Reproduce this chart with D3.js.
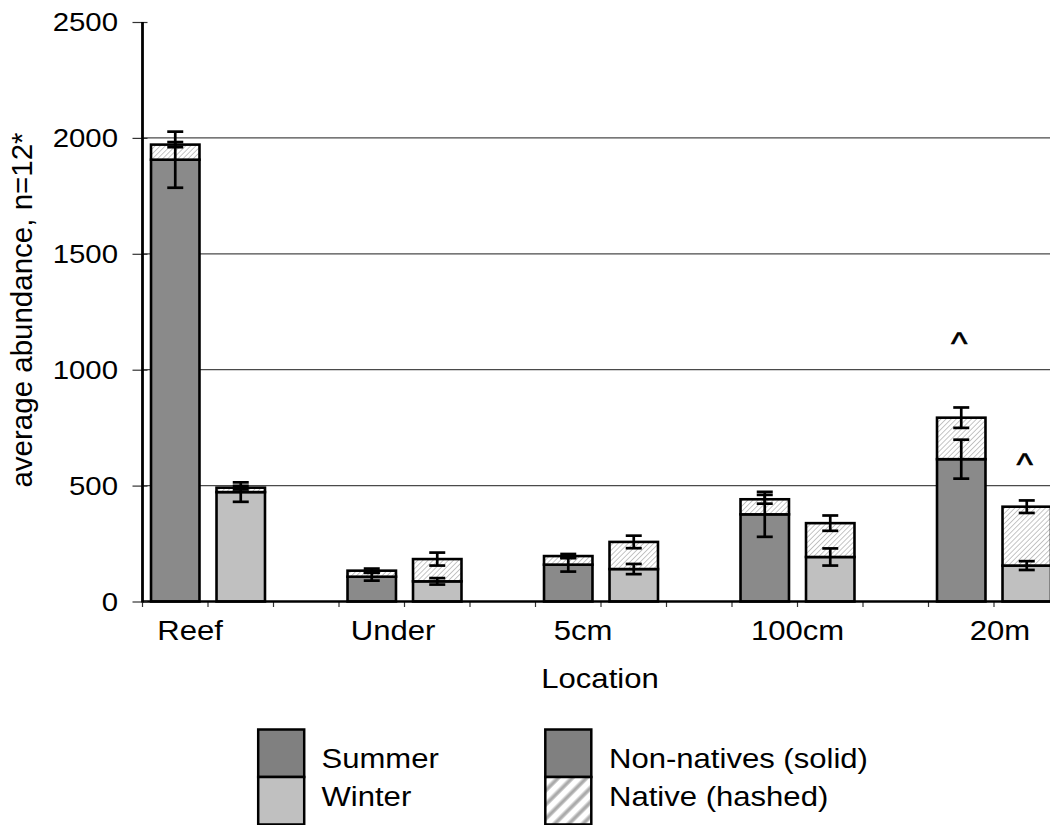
<!DOCTYPE html>
<html>
<head>
<meta charset="utf-8">
<script src="https://cdn.jsdelivr.net/npm/d3@7"></script>
<style>
  html, body { margin: 0; padding: 0; background: #fff; }
  svg { display: block; }
  text { font-family: "Liberation Sans", Arial, sans-serif; fill: #000; }
</style>
</head>
<body>
<svg id="chart" width="1050" height="825"></svg>
<script>
// ---- data -------------------------------------------------------------
const locations = ["Reef", "Under", "5cm", "100cm", "20m"];
const seasons = ["Summer", "Winter"];

// average abundance, stacked: non-native (solid) + native (hashed)
const summerNonNative = [1906, 107, 159, 376, 614];
const summerNative    = [65, 26, 37, 65, 179];
const winterNonNative = [472, 87, 140, 192, 155];
const winterNative    = [19, 96, 117, 146, 254];

// error bars: on the non-native segment and on the stack total
const summerNonNativeErr = [121, 17, 30, 97, 84];
const summerTotalErr     = [11, 9, 9, 19, 44];
const winterNonNativeErr = [42, 14, 22, 37, 19];
const winterTotalErr     = [8, 28, 27, 33, 27];

const yTicks = [0, 500, 1000, 1500, 2000, 2500];
const gridValues = [500, 1000, 1500, 2000];

// "^" markers (location, season, height in abundance units)
const markerLocation = ["20m", "20m"];
const markerSeason = ["Summer", "Winter"];
const markerLevel = [1080, 560];

const legendSeasons = ["Summer", "Winter"];
const legendParts = ["Non-natives (solid)", "Native (hashed)"];

// ---- layout -----------------------------------------------------------
const svg = d3.select("#chart");
const x0 = 142.5, step = 65.5, y0 = 601.5, yTop = 22;
const SX = 1.13;               // horizontal stretch of the chart lettering
const seasonFill = { Summer: "#8a8a8a", Winter: "#c0c0c0" };
const legendFill = { Summer: "#808080", Winter: "#c0c0c0" };

// one slot per bar, with an empty slot separating locations
const slots = [];
locations.forEach((loc, i) => {
  slots.push(loc + "|Summer", loc + "|Winter");
  if (i < locations.length - 1) slots.push(loc + "|gap");
});
const x = d3.scaleBand().domain(slots).range([x0, x0 + step * slots.length]).padding(0);
const y = d3.scaleLinear().domain([0, 2500]).range([y0, yTop]);
const barW = x.bandwidth() * 0.74;

// ---- patterns ---------------------------------------------------------
const defs = svg.append("defs");
const hatch = defs.append("pattern")
  .attr("id", "hatch").attr("patternUnits", "userSpaceOnUse")
  .attr("width", 3.6).attr("height", 3.6)
  .attr("patternTransform", "rotate(45)");
hatch.append("rect").attr("width", 3.6).attr("height", 3.6).attr("fill", "#fff");
hatch.append("line").attr("x1", 0).attr("y1", 0).attr("x2", 0).attr("y2", 3.6)
  .attr("stroke", "#a6a6a6").attr("stroke-width", 1.3);

defs.append("filter").attr("id", "soft")
  .append("feGaussianBlur").attr("stdDeviation", 1.1);
const hatchBig = defs.append("pattern")
  .attr("id", "hatchBig").attr("patternUnits", "userSpaceOnUse")
  .attr("width", 10).attr("height", 10)
  .attr("patternTransform", "rotate(45)");
hatchBig.append("rect").attr("width", 10).attr("height", 10).attr("fill", "#fff");
hatchBig.append("rect").attr("x", 3).attr("y", -2).attr("width", 3.6).attr("height", 14)
  .attr("fill", "#9c9c9c").attr("filter", "url(#soft)");

// helper for horizontally stretched text
function hText(g, px, py, str, size, anchor) {
  return g.append("text")
    .attr("transform", `translate(${px},${py}) scale(${SX},1)`)
    .attr("text-anchor", anchor || "start")
    .style("font-size", size + "px")
    .text(str);
}

// ---- gridlines --------------------------------------------------------
svg.append("g").selectAll("line").data(gridValues).join("line")
  .attr("x1", x0).attr("x2", 1050)
  .attr("y1", d => y(d)).attr("y2", d => y(d))
  .attr("stroke", "#4a4a4a").attr("stroke-width", 1.2);

// ---- bars -------------------------------------------------------------
const bars = [];
locations.forEach((loc, i) => {
  bars.push({ loc, season: "Summer", nn: summerNonNative[i], nat: summerNative[i],
              nnErr: summerNonNativeErr[i], totErr: summerTotalErr[i] });
  bars.push({ loc, season: "Winter", nn: winterNonNative[i], nat: winterNative[i],
              nnErr: winterNonNativeErr[i], totErr: winterTotalErr[i] });
});
const cx = d => x(d.loc + "|" + d.season) + x.bandwidth() / 2;

const barG = svg.append("g");
barG.selectAll("rect.nn").data(bars).join("rect").attr("class", "nn")
  .attr("x", d => cx(d) - barW / 2).attr("width", barW)
  .attr("y", d => y(d.nn)).attr("height", d => y(0) - y(d.nn))
  .attr("fill", d => seasonFill[d.season])
  .attr("stroke", "#000").attr("stroke-width", 2.6);
barG.selectAll("rect.nat").data(bars).join("rect").attr("class", "nat")
  .attr("x", d => cx(d) - barW / 2).attr("width", barW)
  .attr("y", d => y(d.nn + d.nat)).attr("height", d => y(d.nn) - y(d.nn + d.nat))
  .attr("fill", "url(#hatch)")
  .attr("stroke", "#000").attr("stroke-width", 2.6);

// ---- error bars -------------------------------------------------------
const errs = [];
bars.forEach(d => {
  errs.push({ cx: cx(d), v: d.nn, e: d.nnErr });
  errs.push({ cx: cx(d), v: d.nn + d.nat, e: d.totErr });
});
const capW = 16;
const errG = svg.append("g").attr("stroke", "#000").attr("stroke-width", 2.7);
errs.forEach(d => {
  errG.append("line").attr("x1", d.cx).attr("x2", d.cx)
    .attr("y1", y(d.v - d.e)).attr("y2", y(d.v + d.e));
  [d.v - d.e, d.v + d.e].forEach(v => {
    errG.append("line").attr("x1", d.cx - capW / 2).attr("x2", d.cx + capW / 2)
      .attr("y1", y(v)).attr("y2", y(v));
  });
});

// ---- markers ----------------------------------------------------------
markerLocation.forEach((loc, i) => {
  const px = x(loc + "|" + markerSeason[i]) + x.bandwidth() / 2 - 2;
  hText(svg, px, y(markerLevel[i]) + 3, "^", 31, "middle")
    .attr("stroke", "#000").attr("stroke-width", 0.6);
});

// ---- axes -------------------------------------------------------------
// x axis: baseline with small ticks at slot boundaries
const xAxisG = svg.append("g");
const boundaries = slots.map(s => x(s)).concat([x0 + step * slots.length]);
xAxisG.selectAll("line.tick").data(boundaries).join("line")
  .attr("x1", d => d).attr("x2", d => d).attr("y1", y0).attr("y2", y0 + 5.5)
  .attr("stroke", "#333").attr("stroke-width", 1.2);
xAxisG.append("line").attr("x1", x0).attr("x2", 1050).attr("y1", y0).attr("y2", y0)
  .attr("stroke", "#000").attr("stroke-width", 2.7);

// location labels (small nudges for the hand-placed captions)
const labelNudge = [-18, -11.5, -18, 0, 6];
locations.forEach((loc, i) => {
  const c = x(loc + "|Summer") + x.bandwidth();
  hText(svg, c + labelNudge[i], 640, loc, 27.5, "middle");
});
hText(svg, 600, 688, "Location", 27.5, "middle");

// y axis
const yAxis = d3.axisLeft(y).tickValues(yTicks).tickSize(0).tickPadding(0).tickFormat(d3.format("d"));
const yAxisG = svg.append("g").attr("transform", `translate(${x0},0)`).call(yAxis);
yAxisG.select(".domain").remove();
yAxisG.selectAll(".tick text")
  .attr("x", null).attr("dy", null)
  .attr("transform", `translate(-24.5,0) scale(${SX},1)`)
  .attr("dominant-baseline", "central")
  .attr("text-anchor", "end")
  .style("font-size", "26px")
  .style("font-family", "'Liberation Sans', Arial, sans-serif");
yAxisG.selectAll(".tick").append("line")
  .attr("x1", -10).attr("x2", 5).attr("stroke", "#333").attr("stroke-width", 1.2);
svg.append("line").attr("x1", x0).attr("x2", x0).attr("y1", y0 + 1).attr("y2", yTop)
  .attr("stroke", "#000").attr("stroke-width", 2.8);

// y title
svg.append("text")
  .attr("transform", `translate(31.5,310) rotate(-90)`)
  .attr("text-anchor", "middle")
  .style("font-size", "29.5px")
  .text("average abundance, n=12*");

// ---- legend -----------------------------------------------------------
const lg = svg.append("g");
const boxW = 46, boxH = 47.5, boxY = 729.5;
const legLeftX = 258.2, legRightX = 545.3;
legendSeasons.forEach((s, i) => {
  lg.append("rect").attr("x", legLeftX).attr("y", boxY + i * boxH)
    .attr("width", boxW).attr("height", boxH)
    .attr("fill", legendFill[s])
    .attr("stroke", "#000").attr("stroke-width", 2.5);
  hText(lg, 321.5, 768 + i * 38, s, 27.5, "start");
});
legendParts.forEach((p, i) => {
  lg.append("rect").attr("x", legRightX).attr("y", boxY + i * boxH)
    .attr("width", boxW).attr("height", boxH)
    .attr("fill", i === 0 ? legendFill.Summer : "url(#hatchBig)")
    .attr("stroke", "#000").attr("stroke-width", 2.5);
  hText(lg, 609, 768 + i * 38, p, 27.5, "start");
});
</script>
</body>
</html>
